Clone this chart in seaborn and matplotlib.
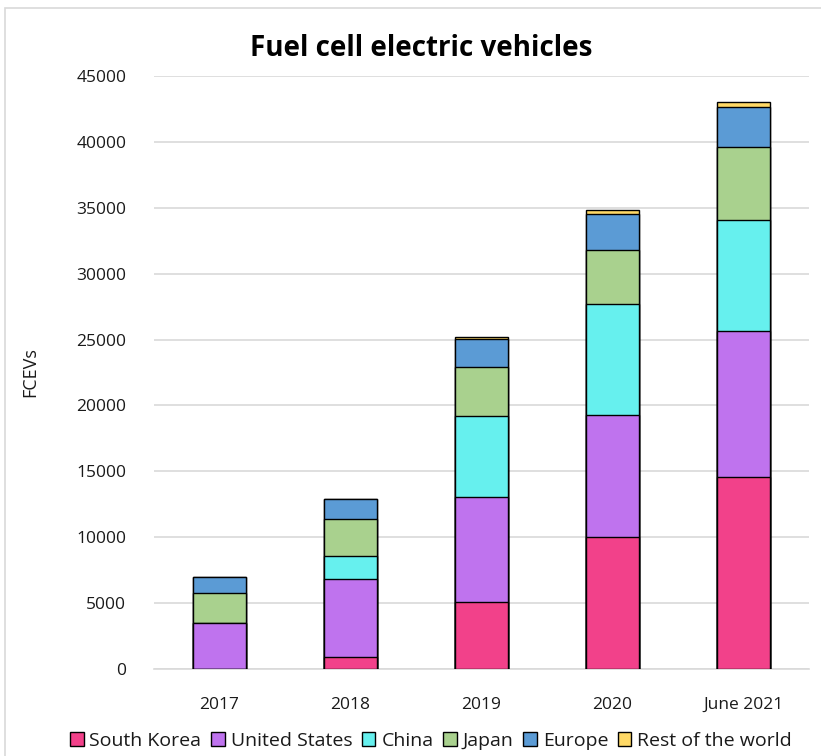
import matplotlib
matplotlib.use("Agg")
import matplotlib.pyplot as plt
import seaborn as sns
import numpy as np
import pandas as pd
from matplotlib.patches import Patch, Rectangle

categories = ["2017", "2018", "2019", "2020", "June 2021"]
series_names = ["South Korea", "United States", "China", "Japan", "Europe", "Rest of the world"]
south_korea = [0, 880, 5100, 10000, 14580]
united_states = [3480, 5970, 7920, 9280, 11070]
china = [0, 1730, 6180, 8440, 8430]
japan = [2250, 2830, 3750, 4110, 5520]
europe = [1220, 1470, 2100, 2710, 3010]
rest_of_world = [0, 0, 150, 260, 380]
colors = ["#F2418A", "#BF73EE", "#66F0EE", "#A9D18E", "#5B9BD5", "#FFD966"]
yticks = list(range(0, 45001, 5000))

sns.set_style("white")
plt.rcParams["font.family"] = ["Open Sans", "DejaVu Sans"]

fig = plt.figure(figsize=(8.21, 7.56), dpi=100)
ax = fig.add_axes([154/821, 1-669/756, (809-154)/821, (669-76)/756])

series = [south_korea, united_states, china, japan, europe, rest_of_world]
cum = np.cumsum(np.array(series, dtype=float), axis=0)
for i in range(len(series) - 1, -1, -1):
    df = pd.DataFrame({"cat": categories, "val": cum[i]})
    sns.barplot(data=df, x="cat", y="val", color=colors[i], edgecolor="black",
                linewidth=1.0, width=0.4, ax=ax, zorder=3, saturation=1)

ax.set_ylim(0, 45000)
ax.set_xlim(-0.5, 4.5)
ax.set_yticks(yticks)
ax.set_yticklabels([str(v) for v in yticks])
ax.yaxis.grid(True, color="#D9D9D9", linewidth=1.2, zorder=0)
ax.set_axisbelow(True)
for s in ["top", "right", "left"]:
    ax.spines[s].set_visible(False)
ax.spines["bottom"].set_color("#D9D9D9")
ax.spines["bottom"].set_linewidth(1.2)
ax.tick_params(axis="both", length=0, labelsize=12.5, colors="#1a1a1a")
ax.tick_params(axis="y", pad=20)
ax.tick_params(axis="x", pad=20)
ax.set_xlabel("")
ax.set_ylabel("FCEVs", fontsize=13, color="#1a1a1a")
ax.yaxis.set_label_coords(-0.175, 0.5)

fig.text(421/821, 1-48/756, "Fuel cell electric vehicles", ha="center", va="center",
         fontsize=20, fontweight="bold", color="black")

handles = [Patch(facecolor=c, edgecolor="black", linewidth=1.0) for c in colors]
fig.legend(handles, series_names, loc="center", bbox_to_anchor=(431/821, 1-741/756),
           ncol=6, frameon=False, fontsize=14, handlelength=0.7, handleheight=0.7,
           handletextpad=0.3, columnspacing=0.5, labelcolor="#1a1a1a")

fig.patches.append(Rectangle((5/821, -0.1), 1.2, 1-8/756+0.1, transform=fig.transFigure,
                             fill=False, edgecolor="#D9D9D9", linewidth=1.2))

fig.savefig("out.png", dpi=100)
